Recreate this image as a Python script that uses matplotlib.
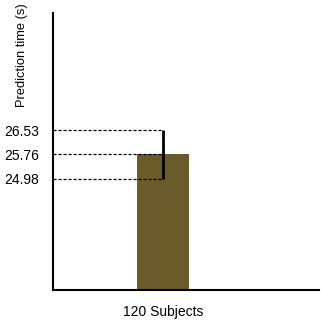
import matplotlib.pyplot as plt

plt.rcParams['font.family'] = ['Liberation Sans', 'DejaVu Sans']

# Data
categories = ['120 Subjects']
means = [25.76]
lower = [24.98]
upper = [26.53]
tick_values = [24.98, 25.76, 26.53]
tick_labels = ['24.98', '25.76', '26.53']

bar_color = '#6a5b2b'

fig = plt.figure(figsize=(3.21, 3.22), dpi=100)
ax = fig.add_axes([53 / 321, 32 / 322, 266 / 321, 277 / 322])

x = list(range(len(categories)))
ax.bar(x, means, width=0.4, color=bar_color, zorder=2)

err_low = [m - l for m, l in zip(means, lower)]
err_high = [u - m for m, u in zip(means, upper)]
ax.errorbar(x, means, yerr=[err_low, err_high], fmt='none',
            ecolor='black', elinewidth=2, capsize=0, zorder=4)

# dashed guide lines from the axis to the error bar
for v in tick_values:
    ax.plot([-0.85, x[0]], [v, v], color='black', linestyle=(0, (2.5, 1.5)),
            linewidth=0.9, zorder=3)

ax.set_xlim(-0.85, 1.2)
ax.set_ylim(21.4, 30.3)
ax.set_xticks(x)
ax.set_xticklabels(categories, fontsize=10)
ax.set_yticks(tick_values)
ax.set_yticklabels(tick_labels, fontsize=10)
ax.tick_params(axis='both', length=0)
ax.tick_params(axis='x', pad=11)
ax.tick_params(axis='y', pad=10)

for s in ['top', 'right']:
    ax.spines[s].set_visible(False)
for s in ['left', 'bottom']:
    ax.spines[s].set_linewidth(1.5)
    ax.spines[s].set_color('black')

fig.text(22 / 321, 1 - 3 / 322, 'Prediction time (s)', rotation=90,
         ha='center', va='top', fontsize=9.3)

fig.savefig('out.png', dpi=100)
